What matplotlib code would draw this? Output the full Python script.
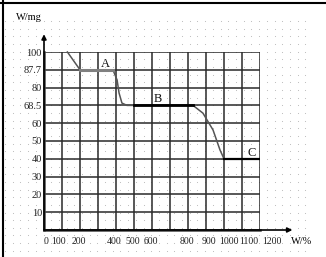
import numpy as np
import matplotlib
matplotlib.use("Agg")
import matplotlib.pyplot as plt
import matplotlib.transforms as mtransforms

# y axis: evenly spaced grid lines carrying these labels
y_levels = [0, 10, 20, 30, 40, 50, 60, 68.5, 80, 87.7, 100]
y_labels = ["", "10", "20", "30", "40", "50", "60", "68.5", "80", "87.7", "100"]
x_ticks = [0, 100, 200, 300, 400, 500, 600, 700, 800, 900, 1000, 1100, 1200]
x_labels = ["0", "100", "200", "", "400", "500", "600", "", "800", "900", "1000", "1100", "1200"]
# horizontal nudge (px) of each x label, as in the original text box
x_label_shift = [2, -3, -1, 0, -2, -1, -1, 0, -1, 3, 5, 7, 12]

# weight-loss curve (temperature, mass)
curve_x = [130, 200, 383, 406, 417, 433, 461, 828, 883, 939, 978, 1000]
curve_y = [100, 87.7, 87.7, 83.3, 76.5, 70, 68.5, 68.5, 64.8, 56.2, 44.9, 40]
plateau_a_x = [200, 383]
plateau_a_y = [87.7, 87.7]
plateau_b_x = [500, 830]
plateau_b_y = [68.5, 68.5]
plateau_c_x = [1000, 1200]
plateau_c_y = [40, 40]

labels = ["A", "B", "C"]
label_x = [339, 633, 1156]
label_y = [91.5, 72.5, 43.5]

W, H = 326, 257
fig = plt.figure(figsize=(W / 100, H / 100), dpi=100)
plt.rcParams["font.family"] = ["Liberation Serif", "DejaVu Serif"]

# background: dotted canvas and frame
bg = fig.add_axes([0, 0, 1, 1], zorder=0)
bg.set_xlim(0, W)
bg.set_ylim(H, 0)
bg.axis("off")
gx, gy = np.meshgrid(np.arange(5, 312, 7.7), np.arange(21, 251, 7.66))
bg.scatter(gx.ravel(), gy.ravel(), s=0.6, color="#b8b8b8", linewidths=0)
bg.plot([0, W], [3, 3], color="black", lw=1.5)
bg.plot([3, 3], [0, H], color="black", lw=1.5)

ax = fig.add_axes([44 / W, (H - 230) / H, 216 / W, 178 / H], zorder=1)
ax.patch.set_alpha(0)


def fwd(v):
    return np.interp(v, y_levels, np.arange(len(y_levels)))


def inv(p):
    return np.interp(p, np.arange(len(y_levels)), y_levels)


ax.set_yscale("function", functions=(fwd, inv))
ax.set_xlim(0, 1200)
ax.set_ylim(0, 100)
ax.set_xticks(x_ticks)
ax.set_xticklabels(x_labels)
ax.set_yticks(y_levels)
ax.set_yticklabels(y_labels)
ax.minorticks_off()
ax.tick_params(length=0, labelsize=7.5, colors="#222222")
ax.tick_params(axis="x", pad=5, labelsize=7)
ax.tick_params(axis="y", pad=1.5)
ax.grid(True, color="#2a2a2a", lw=1.1)

for lab, dx in zip(ax.get_xticklabels(), x_label_shift):
    lab.set_transform(lab.get_transform() +
                      mtransforms.ScaledTranslation(dx / 100, 0, fig.dpi_scale_trans))

for s in ["top", "right"]:
    ax.spines[s].set_visible(False)
for s in ["left", "bottom"]:
    ax.spines[s].set_color("#444444")
    ax.spines[s].set_linewidth(1.8)

# axis arrows
ax.annotate("", xy=(0, 1.1), xytext=(0, 0), xycoords="axes fraction",
            arrowprops=dict(arrowstyle="-|>", color="black", lw=1.2,
                            mutation_scale=7, shrinkA=0, shrinkB=0))
ax.annotate("", xy=(1.15, 0), xytext=(0, 0), xycoords="axes fraction",
            arrowprops=dict(arrowstyle="-|>", color="black", lw=1.2,
                            mutation_scale=7, shrinkA=0, shrinkB=0))

ax.plot(curve_x, curve_y, color="#555555", lw=1.1, zorder=3, clip_on=False)
ax.plot(plateau_a_x, plateau_a_y, color="#808080", lw=2.2, zorder=4)
ax.plot(plateau_b_x, plateau_b_y, color="black", lw=2.0, zorder=4)
ax.plot(plateau_c_x, plateau_c_y, color="black", lw=1.6, zorder=4)

for t, lx, ly in zip(labels, label_x, label_y):
    ax.text(lx, ly, t, fontsize=9, ha="center", va="center", color="#111111", zorder=5)

fig.text(29 / W, 1 - 18 / H, "W/mg", fontsize=7.5, ha="center", va="center")
fig.text(302 / W, 1 - 242 / H, "W/%", fontsize=7.5, ha="center", va="center")

fig.savefig("out.png", dpi=100)
